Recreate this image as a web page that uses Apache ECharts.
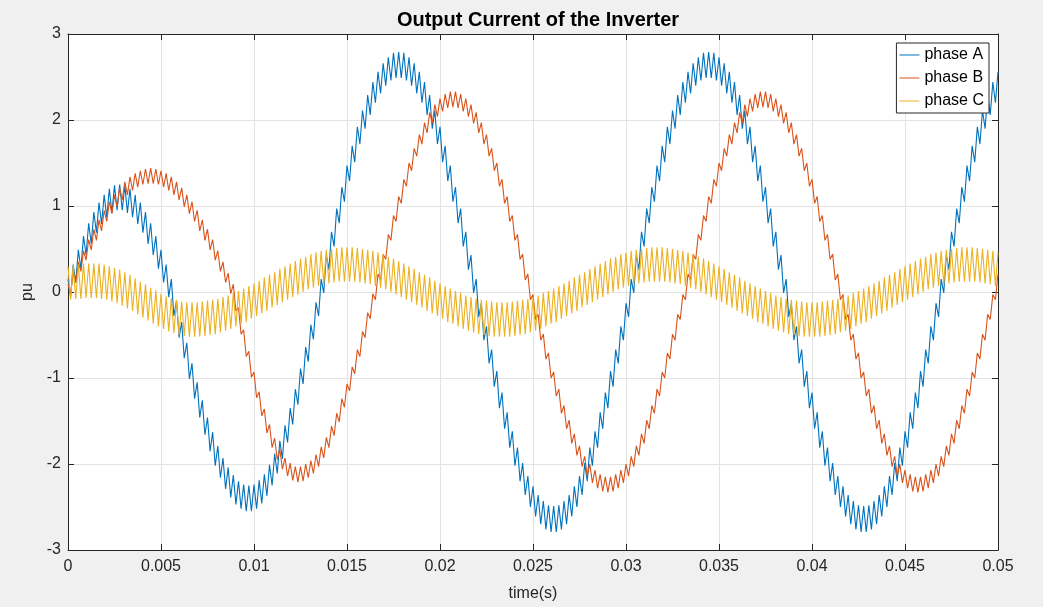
<!DOCTYPE html>
<html>
<head>
<meta charset="utf-8">
<script src="https://cdn.jsdelivr.net/npm/echarts@6/dist/echarts.min.js"></script>
<style>
  html, body { margin: 0; padding: 0; background: #f0f0f0; }
  #chart { width: 1043px; height: 607px; }
</style>
</head>
<body>
<div id="chart"></div>
<script>
const T_END = 0.05;
const SAMPLES = 360;
const xTicks = [0, 0.005, 0.01, 0.015, 0.02, 0.025, 0.03, 0.035, 0.04, 0.045, 0.05];
const yTicks = [-3, -2, -1, 0, 1, 2, 3];
const seriesNames = ['phase A', 'phase B', 'phase C'];

const phaseA = [
0.15,-0.06,0.32,0.11,0.49,0.27,0.65,0.43,0.80,0.56,0.93,0.69,1.04,0.79,1.13,0.87,1.20,0.92,1.24,0.95,1.25,
0.95,1.24,0.92,1.20,0.87,1.13,0.79,1.04,0.69,0.93,0.56,0.80,0.43,0.65,0.27,0.49,0.11,0.32,-0.06,0.15,
-0.28,-0.10,-0.53,-0.35,-0.77,-0.59,-1.01,-0.83,-1.24,-1.05,-1.46,-1.26,-1.66,-1.46,-1.85,-1.63,-2.02,-1.79,-2.16,-1.93,-2.29,-2.04,-2.39,-2.13,-2.47,-2.20,-2.52,-2.24,-2.55,-2.25,
-2.55,-2.24,-2.52,-2.19,-2.46,-2.12,-2.37,-2.01,-2.25,-1.88,-2.11,-1.73,-1.94,-1.55,-1.75,-1.35,-1.54,-1.13,-1.31,-0.89,-1.07,-0.64,-0.81,-0.38,-0.55,-0.12,-0.28,0.15,
-0.01,0.43,0.26,0.70,0.53,0.97,0.80,1.22,1.05,1.47,1.29,1.70,1.51,1.92,1.72,2.11,1.90,2.29,2.06,2.44,2.20,2.56,2.31,2.66,2.40,2.73,2.46,2.78,2.49,2.79,
2.49,2.78,2.46,2.73,2.40,2.66,2.31,2.56,2.20,2.44,2.06,2.29,1.90,2.11,1.72,1.92,1.51,1.70,1.29,1.47,1.05,1.22,0.80,0.97,0.53,0.70,0.26,0.43,-0.01,0.15,
-0.29,-0.13,-0.56,-0.40,-0.83,-0.67,-1.10,-0.92,-1.35,-1.17,-1.59,-1.40,-1.81,-1.62,-2.02,-1.81,-2.20,-1.99,-2.36,-2.14,-2.50,-2.26,-2.61,-2.36,-2.70,-2.43,-2.76,-2.48,-2.79,-2.49,
-2.79,-2.48,-2.76,-2.43,-2.70,-2.36,-2.61,-2.26,-2.50,-2.14,-2.36,-1.99,-2.20,-1.81,-2.02,-1.62,-1.81,-1.40,-1.59,-1.17,-1.35,-0.92,-1.10,-0.67,-0.83,-0.40,-0.56,-0.13,-0.29,0.15,
-0.01,0.43,0.26,0.70,0.53,0.97,0.80,1.22,1.05,1.47,1.29,1.70,1.51,1.92,1.72,2.11,1.90,2.29,2.06,2.44,2.20,2.56,2.31,2.66,2.40,2.73,2.46,2.78,2.49,2.79,
2.49,2.78,2.46,2.73,2.40,2.66,2.31,2.56,2.20,2.44,2.06,2.29,1.90,2.11,1.72,1.92,1.51,1.70,1.29,1.47,1.05,1.22,0.80,0.97,0.53,0.70,0.26,0.43,-0.01,0.15,
-0.29,-0.13,-0.56,-0.40,-0.83,-0.67,-1.10,-0.92,-1.35,-1.17,-1.59,-1.40,-1.81,-1.62,-2.02,-1.81,-2.20,-1.99,-2.36,-2.14,-2.50,-2.26,-2.61,-2.36,-2.70,-2.43,-2.76,-2.48,-2.79,-2.49,
-2.79,-2.48,-2.76,-2.43,-2.70,-2.36,-2.61,-2.26,-2.50,-2.14,-2.36,-1.99,-2.20,-1.81,-2.02,-1.62,-1.81,-1.40,-1.59,-1.17,-1.35,-0.92,-1.10,-0.67,-0.83,-0.40,-0.56,-0.13,-0.29,0.15,
-0.01,0.43,0.26,0.70,0.53,0.97,0.80,1.22,1.05,1.47,1.29,1.70,1.51,1.92,1.72,2.11,1.90,2.29,2.06,2.44,2.20,2.56
];

const phaseB = [
0.09,-0.02,0.22,0.11,0.35,0.24,0.48,0.37,0.61,0.49,0.73,0.60,0.84,0.71,0.95,0.82,1.05,0.91,1.13,0.99,1.21,1.07,1.28,1.13,1.34,1.18,1.38,1.22,1.41,1.25,1.43,1.26,1.44,
1.26,1.43,1.25,1.41,1.22,1.38,1.18,1.34,1.13,1.28,1.07,1.21,0.99,1.13,0.91,1.05,0.82,0.95,0.71,0.84,0.60,0.73,0.49,0.61,0.37,0.48,0.24,0.35,0.11,0.22,-0.02,0.09,
-0.22,-0.18,-0.49,-0.44,-0.75,-0.69,-0.99,-0.93,-1.23,-1.16,-1.44,-1.36,-1.64,-1.54,-1.81,-1.70,-1.95,-1.83,-2.06,-1.93,-2.14,-1.99,-2.19,-2.03,-2.21,
-2.03,-2.20,-2.00,-2.16,-1.96,-2.11,-1.89,-2.03,-1.80,-1.93,-1.69,-1.81,-1.56,-1.67,-1.41,-1.51,-1.24,-1.34,-1.07,-1.15,-0.87,-0.95,-0.67,-0.75,-0.46,-0.53,-0.24,-0.31,-0.02,-0.09,
0.21,0.14,0.44,0.38,0.67,0.60,0.89,0.82,1.11,1.03,1.31,1.23,1.50,1.41,1.67,1.58,1.83,1.72,1.97,1.85,2.09,1.96,2.18,2.04,2.25,2.10,2.30,2.14,2.33,2.15,
2.33,2.14,2.30,2.10,2.25,2.04,2.18,1.96,2.09,1.85,1.97,1.72,1.83,1.58,1.67,1.41,1.50,1.23,1.31,1.03,1.11,0.82,0.89,0.60,0.67,0.38,0.44,0.14,0.21,-0.09,
-0.03,-0.32,-0.26,-0.56,-0.49,-0.78,-0.71,-1.00,-0.93,-1.21,-1.13,-1.41,-1.32,-1.59,-1.49,-1.76,-1.65,-1.90,-1.79,-2.03,-1.91,-2.14,-2.00,-2.22,-2.07,-2.28,-2.12,-2.32,-2.15,-2.33,
-2.15,-2.32,-2.12,-2.28,-2.07,-2.22,-2.00,-2.14,-1.91,-2.03,-1.79,-1.90,-1.65,-1.76,-1.49,-1.59,-1.32,-1.41,-1.13,-1.21,-0.93,-1.00,-0.71,-0.78,-0.49,-0.56,-0.26,-0.32,-0.03,-0.09,
0.21,0.14,0.44,0.38,0.67,0.60,0.89,0.82,1.11,1.03,1.31,1.23,1.50,1.41,1.67,1.58,1.83,1.72,1.97,1.85,2.09,1.96,2.18,2.04,2.25,2.10,2.30,2.14,2.33,2.15,
2.33,2.14,2.30,2.10,2.25,2.04,2.18,1.96,2.09,1.85,1.97,1.72,1.83,1.58,1.67,1.41,1.50,1.23,1.31,1.03,1.11,0.82,0.89,0.60,0.67,0.38,0.44,0.14,0.21,-0.09,
-0.03,-0.32,-0.26,-0.56,-0.49,-0.78,-0.71,-1.00,-0.93,-1.21,-1.13,-1.41,-1.32,-1.59,-1.49,-1.76,-1.65,-1.90,-1.79,-2.03,-1.91,-2.14,-2.00,-2.22,-2.07,-2.28,-2.12,-2.32,-2.15,-2.33,
-2.15,-2.32,-2.12,-2.28,-2.07,-2.22,-2.00,-2.14,-1.91,-2.03,-1.79,-1.90,-1.65,-1.76,-1.49,-1.59,-1.32,-1.41,-1.13,-1.21,-0.93,-1.00,-0.71,-0.78,-0.49,-0.56,-0.26,-0.32,-0.03,-0.09,
0.21
];

const phaseC = [
0.30,-0.09,0.31,-0.08,0.32,-0.08,0.33,-0.07,0.33,-0.07,0.33,
-0.07,0.33,-0.08,0.32,-0.09,0.30,-0.11,0.28,-0.13,0.26,-0.16,0.23,-0.19,0.20,-0.22,0.16,-0.26,0.12,-0.30,0.09,-0.33,0.05,-0.37,0.02,-0.40,-0.02,-0.43,-0.05,-0.46,-0.07,-0.48,-0.09,-0.50,-0.11,-0.51,-0.12,-0.52,-0.12,
-0.52,-0.12,-0.52,-0.11,-0.51,-0.10,-0.50,-0.09,-0.49,-0.08,-0.47,-0.06,-0.45,-0.04,-0.43,-0.01,-0.40,0.01,-0.37,0.04,-0.35,0.07,-0.31,0.10,-0.28,0.13,-0.25,0.17,-0.22,0.20,
-0.18,0.23,-0.15,0.27,-0.12,0.30,-0.09,0.33,-0.06,0.36,-0.03,0.39,0.00,0.41,0.03,0.44,0.05,0.46,0.07,0.48,0.09,0.49,0.10,0.50,0.11,0.51,0.12,0.52,0.12,0.52,
0.12,0.52,0.12,0.51,0.11,0.50,0.10,0.49,0.09,0.48,0.07,0.46,0.05,0.44,0.03,0.41,0.00,0.39,-0.03,0.36,-0.06,0.33,-0.09,0.30,-0.12,0.27,-0.15,0.23,-0.18,0.20,
-0.22,0.17,-0.25,0.13,-0.28,0.10,-0.31,0.07,-0.35,0.04,-0.37,0.01,-0.40,-0.01,-0.43,-0.04,-0.45,-0.06,-0.47,-0.08,-0.49,-0.09,-0.50,-0.10,-0.51,-0.11,-0.52,-0.12,-0.52,-0.12,
-0.52,-0.12,-0.52,-0.11,-0.51,-0.10,-0.50,-0.09,-0.49,-0.08,-0.47,-0.06,-0.45,-0.04,-0.43,-0.01,-0.40,0.01,-0.37,0.04,-0.35,0.07,-0.31,0.10,-0.28,0.13,-0.25,0.17,-0.22,0.20,
-0.18,0.23,-0.15,0.27,-0.12,0.30,-0.09,0.33,-0.06,0.36,-0.03,0.39,0.00,0.41,0.03,0.44,0.05,0.46,0.07,0.48,0.09,0.49,0.10,0.50,0.11,0.51,0.12,0.52,0.12,0.52,
0.12,0.52,0.12,0.51,0.11,0.50,0.10,0.49,0.09,0.48,0.07,0.46,0.05,0.44,0.03,0.41,0.00,0.39,-0.03,0.36,-0.06,0.33,-0.09,0.30,-0.12,0.27,-0.15,0.23,-0.18,0.20,
-0.22,0.17,-0.25,0.13,-0.28,0.10,-0.31,0.07,-0.35,0.04,-0.37,0.01,-0.40,-0.01,-0.43,-0.04,-0.45,-0.06,-0.47,-0.08,-0.49,-0.09,-0.50,-0.10,-0.51,-0.11,-0.52,-0.12,-0.52,-0.12,
-0.52,-0.12,-0.52,-0.11,-0.51,-0.10,-0.50,-0.09,-0.49,-0.08,-0.47,-0.06,-0.45,-0.04,-0.43,-0.01,-0.40,0.01,-0.37,0.04,-0.35,0.07,-0.31,0.10,-0.28,0.13,-0.25,0.17,-0.22,0.20,
-0.18,0.23,-0.15,0.27,-0.12,0.30,-0.09,0.33,-0.06,0.36,-0.03,0.39,0.00,0.41,0.03,0.44,0.05,0.46,0.07,0.48,0.09,0.49,0.10,0.50,0.11,0.51,0.12,0.52,0.12,0.52,
0.12,0.52,0.12,0.51,0.11,0.50,0.10,0.49,0.09,0.48,0.07,0.46
];

const colors = ['#0072BD', '#D95319', '#EDB120'];

// ---- build chart ----
const sampleTime = (i) => i * T_END / SAMPLES;
const toPairs = (arr) => arr.map((v, i) => [sampleTime(i), v]);
const FONT = 'Liberation Sans, Arial, Helvetica, sans-serif';
const AXIS_COLOR = '#262626';
const LEGEND_ICON = 'path://M0,0 L20,0 L20,1 L0,1 Z';

const chart = echarts.init(document.getElementById('chart'), null, { renderer: 'canvas' });

const tickFmt = (v) => String(parseFloat(Number(v).toFixed(4)));

const mainX = {
  type: 'value', position: 'bottom', min: xTicks[0], max: xTicks[xTicks.length - 1],
  interval: xTicks[1] - xTicks[0],
  name: 'time(s)', nameLocation: 'middle', nameGap: 36,
  nameTextStyle: { fontFamily: FONT, fontSize: 16, color: AXIS_COLOR },
  axisLine: { show: true, onZero: false, lineStyle: { color: AXIS_COLOR, width: 1 } },
  axisTick: { show: true, inside: true, length: 6, lineStyle: { color: AXIS_COLOR } },
  axisLabel: { show: true, margin: 9, fontFamily: FONT, fontSize: 16, color: AXIS_COLOR,
               showMinLabel: true, showMaxLabel: true, formatter: tickFmt },
  splitLine: { show: true, lineStyle: { color: '#e3e3e3', width: 1 } }
};
const topX = Object.assign({}, mainX, {
  position: 'top', name: '', axisLabel: { show: false }, splitLine: { show: false }
});
const mainY = {
  type: 'value', position: 'left', min: yTicks[0], max: yTicks[yTicks.length - 1],
  interval: yTicks[1] - yTicks[0],
  name: 'pu', nameLocation: 'middle', nameGap: 26,
  nameTextStyle: { fontFamily: FONT, fontSize: 16, color: AXIS_COLOR },
  axisLine: { show: true, onZero: false, lineStyle: { color: AXIS_COLOR, width: 1 } },
  axisTick: { show: true, inside: true, length: 6, lineStyle: { color: AXIS_COLOR } },
  axisLabel: { show: true, margin: 7, fontFamily: FONT, fontSize: 16, color: AXIS_COLOR,
               showMinLabel: true, showMaxLabel: true },
  splitLine: { show: true, lineStyle: { color: '#e3e3e3', width: 1 } }
};
const rightY = Object.assign({}, mainY, {
  position: 'right', name: '', axisLabel: { show: false }, splitLine: { show: false }
});

const allData = [phaseA, phaseB, phaseC];

chart.setOption({
  animation: false,
  backgroundColor: '#f0f0f0',
  title: {
    text: 'Output Current of the Inverter',
    left: 533, top: 5, textAlign: 'center',
    textStyle: { fontFamily: FONT, fontSize: 20, fontWeight: 'bold', color: '#000' }
  },
  grid: {
    left: 68, top: 34, width: 930, height: 516,
    containLabel: false, outerBoundsMode: 'none',
    show: true, backgroundColor: '#ffffff', borderWidth: 0
  },
  legend: {
    data: seriesNames.map((n, i) => ({ name: n, icon: LEGEND_ICON, itemStyle: { color: colors[i] } })),
    orient: 'vertical', right: 54, top: 43,
    backgroundColor: '#ffffff', borderColor: AXIS_COLOR, borderWidth: 1, borderRadius: 0,
    padding: [3, 5, 3, 3], itemGap: 5, itemWidth: 20, itemHeight: 1,
    textStyle: { fontFamily: FONT, fontSize: 16, color: '#000', lineHeight: 18 }
  },
  xAxis: [mainX, topX],
  yAxis: [mainY, rightY],
  series: allData.map((arr, i) => ({
    name: seriesNames[i], type: 'line', xAxisIndex: 0, yAxisIndex: 0,
    data: toPairs(arr), showSymbol: false, symbol: 'none', smooth: false,
    lineStyle: { color: colors[i], width: 1.1 }, itemStyle: { color: colors[i] },
    emphasis: { disabled: true }
  }))
});
</script>
</body>
</html>
